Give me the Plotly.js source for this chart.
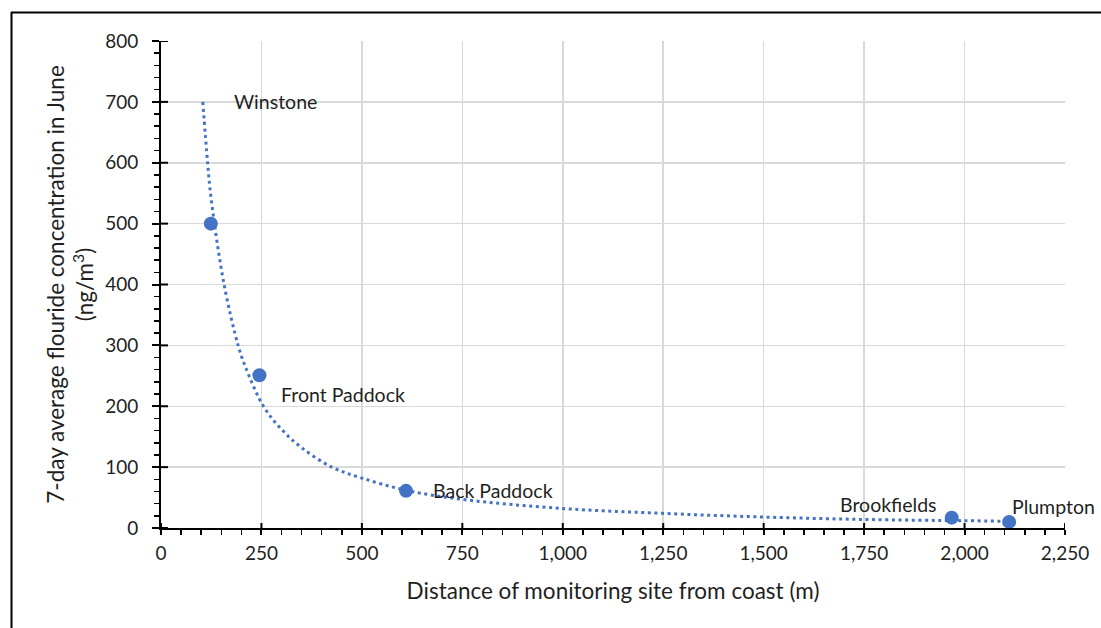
<!DOCTYPE html>
<html>
<head>
<meta charset="utf-8">
<script src="https://cdn.plot.ly/plotly-3.0.1.min.js"></script>
<style>
  html, body { margin: 0; padding: 0; background: #ffffff; }
  #chart { width: 1101px; height: 628px; }
</style>
</head>
<body>
<div id="chart"></div>
<script>
// Monitoring sites
const siteNames = ["Winstone", "Front Paddock", "Back Paddock", "Brookfields", "Plumpton"];
const siteDistance = [124, 245, 610, 1968, 2111];
const siteFluoride = [500, 251, 61, 17, 10];

// Trendline
const trendDistance = [104, 116, 125, 157, 192, 210, 255, 300, 350, 425, 500, 610, 750, 1000, 1250, 1500, 1750, 2000, 2111];
const trendFluoride = [700, 600, 540, 400, 300, 265, 200, 162, 132, 100, 82, 62, 47, 32, 24, 18, 14, 12, 11];

// Label anchor positions (data units)
const labelX = [176, 293, 672, 1686, 2114];
const labelY = [700, 220, 61, 39, 36];

const xTickVals = [0, 250, 500, 750, 1000, 1250, 1500, 1750, 2000, 2250];
const xTickText = ["0", "250", "500", "750", "1,000", "1,250", "1,500", "1,750", "2,000", "2,250"];
const yTickVals = [0, 100, 200, 300, 400, 500, 600, 700, 800];

const blue = "#4472C4";
const fontFam = "Lato, 'Open Sans', sans-serif";
const textCol = "#1f1f1f";

const traces = [
  {
    x: trendDistance, y: trendFluoride,
    type: "scatter", mode: "lines",
    line: { color: blue, width: 3, dash: "3px,3.6px", shape: "spline", smoothing: 1 },
    hoverinfo: "skip", showlegend: false
  },
  {
    x: siteDistance, y: siteFluoride, text: siteNames,
    type: "scatter", mode: "markers",
    marker: { color: blue, size: 14 },
    cliponaxis: false,
    showlegend: false
  }
];

const annotations = siteNames.map((n, i) => ({
  x: labelX[i], y: labelY[i], xref: "x", yref: "y",
  text: n, showarrow: false, xanchor: "left", yanchor: "middle",
  font: { family: fontFam, size: 19.5, color: textCol }
}));

const L = 161, R = 1065, T = 41, B = 528;
const pw = R - L, ph = B - T;
const px = v => (v - L) / pw;
const py = v => (B - v) / ph;

// short inward tick marks so major ticks cross the axis lines
const crossTicks = [];
xTickVals.forEach(v => crossTicks.push({ type: "line", xref: "x", yref: "paper", x0: v, x1: v, y0: 0, y1: 5 / ph, line: { color: "#000000", width: 2 } }));
yTickVals.forEach(v => crossTicks.push({ type: "line", xref: "paper", yref: "y", x0: 0, x1: 7 / pw, y0: v, y1: v, line: { color: "#000000", width: 2 } }));

const layout = {
  width: 1101, height: 628,
  margin: { l: L, r: 1101 - R, t: T, b: 628 - B, pad: 0 },
  paper_bgcolor: "#ffffff", plot_bgcolor: "#ffffff",
  font: { family: fontFam, color: textCol },
  showlegend: false,
  xaxis: {
    range: [0, 2250], tickvals: xTickVals, ticktext: xTickText,
    showgrid: true, gridcolor: "#d9d9d9", gridwidth: 1.5,
    showline: true, linecolor: "#000000", linewidth: 2,
    ticks: "outside", ticklen: 5, tickwidth: 2, tickcolor: "#000000",
    minor: { dtick: 50, ticks: "outside", ticklen: 5, tickwidth: 1.5, tickcolor: "#000000", showgrid: false },
    tickfont: { family: fontFam, size: 19, color: textCol },
    ticklabelstandoff: 2,
    zeroline: false, fixedrange: true,
    title: { text: "Distance of monitoring site from coast (m)", font: { family: fontFam, size: 22.5, color: textCol }, standoff: 20 }
  },
  yaxis: {
    range: [0, 800], tickvals: yTickVals,
    showgrid: true, gridcolor: "#d9d9d9", gridwidth: 1.5,
    showline: true, linecolor: "#000000", linewidth: 2,
    ticks: "outside", ticklen: 7, tickwidth: 2, tickcolor: "#000000",
    minor: { dtick: 20, ticks: "outside", ticklen: 5, tickwidth: 1.5, tickcolor: "#000000", showgrid: false },
    tickfont: { family: fontFam, size: 19, color: textCol },
    ticklabelstandoff: 10,
    zeroline: false, fixedrange: true,
    title: { text: "7-day average flouride concentration in June<br>(ng/m<sup>3</sup>)", font: { family: fontFam, size: 22.5, color: textCol }, standoff: 5 }
  },
  annotations: annotations,
  shapes: crossTicks.concat([
    { type: "line", xref: "paper", yref: "paper", x0: px(11), x1: px(1110), y0: py(12.5), y1: py(12.5), line: { color: "#000000", width: 2 } },
    { type: "line", xref: "paper", yref: "paper", x0: px(11.5), x1: px(11.5), y0: py(12), y1: py(640), line: { color: "#000000", width: 2 } }
  ])
};

Plotly.newPlot("chart", traces, layout, { displayModeBar: false, staticPlot: true });
</script>
</body>
</html>
